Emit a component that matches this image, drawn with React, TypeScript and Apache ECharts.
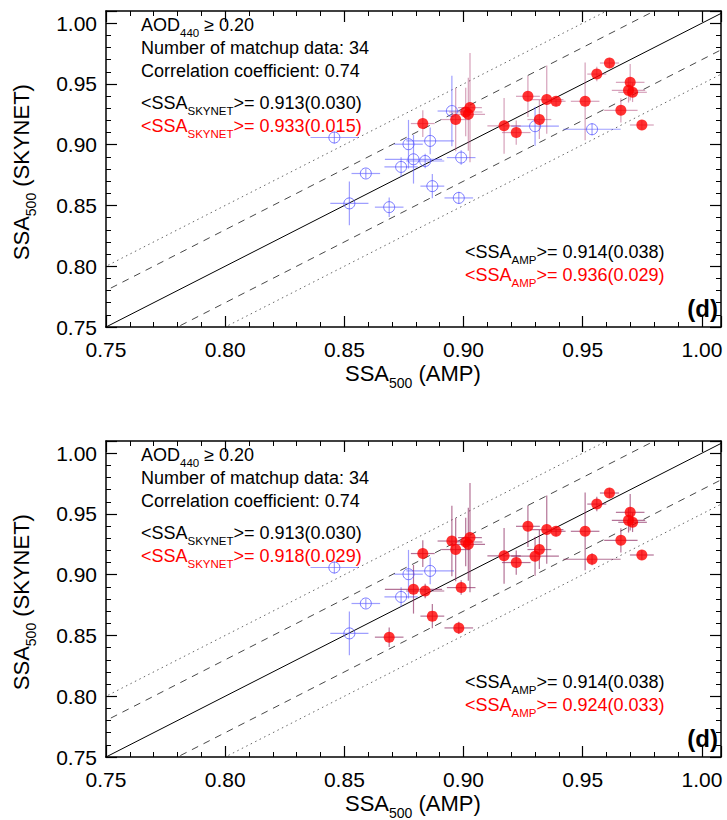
import React, { useEffect, useRef } from 'react';
import * as echarts from 'echarts';

// SSA500 from AMP (x) and SKYNET (y) for the 34 matchups
const ampSSA = [
  0.9612, 0.9559, 0.9699, 0.9692, 0.9709, 0.927, 0.9349, 0.9388, 0.951, 0.966,
  0.9027, 0.9009, 0.902, 0.8967, 0.9318, 0.8829, 0.917, 0.9748, 0.9221,
  0.8951, 0.93, 0.9539, 0.886, 0.8769, 0.879, 0.8839, 0.899, 0.8738, 0.859,
  0.8869, 0.898, 0.8521, 0.8688, 0.8458,
];
const skynetSSA = [
  0.9672, 0.9581, 0.9513, 0.9447, 0.9431, 0.9398, 0.9371, 0.9357, 0.9357, 0.9283,
  0.9305, 0.9269, 0.925, 0.9207, 0.9207, 0.9174, 0.9155, 0.9162, 0.91,
  0.9277, 0.9152, 0.9127, 0.9031, 0.9004, 0.888, 0.8866, 0.8894, 0.8817, 0.8763,
  0.8659, 0.8562, 0.8517, 0.8486, 0.9059,
];
const ampErr = [
  0.004, 0.004, 0.006, 0.007, 0.006, 0.005, 0.007, 0.004, 0.006, 0.007,
  0.005, 0.007, 0.007, 0.006, 0.005, 0.005, 0.007, 0.005, 0.006,
  0.006, 0.01, 0.012, 0.01, 0.006, 0.012, 0.008, 0.006, 0.007, 0.006,
  0.005, 0.006, 0.008, 0.006, 0.01,
];
const skynetErr = [
  0.004, 0.006, 0.015, 0.01, 0.008, 0.017, 0.028, 0.004, 0.032, 0.01,
  0.045, 0.02, 0.03, 0.026, 0.016, 0.011, 0.023, 0.004, 0.01,
  0.029, 0.016, 0.005, 0.011, 0.02, 0.02, 0.006, 0.006, 0.008, 0.004,
  0.01, 0.005, 0.018, 0.008, 0.005,
];
// red (selected) subsets for the upper and lower panel
const redUpper = [
  1, 1, 1, 1, 1, 1, 1, 1, 1, 1, 1, 1, 1, 1, 1, 1, 1, 1, 1,
  0, 0, 0, 0, 0, 0, 0, 0, 0, 0, 0, 0, 0, 0, 0,
];
const redLower = [
  1, 1, 1, 1, 1, 1, 1, 1, 1, 1, 1, 1, 1, 1, 1, 1, 1, 1, 1,
  1, 1, 1, 0, 0, 1, 1, 1, 0, 0, 1, 1, 0, 1, 0,
];
const redFlags = [redUpper, redLower];

const refOffsets = [0, 0.03, -0.03, 0.05, -0.05];
const axisMin = 0.75;
const xMax = 1.008;
const yMax = 1.01;
const tickStep = 0.05;

const aodText = ['0.20', '0.20'];
const countText = ['34', '34'];
const corrText = ['0.74', '0.74'];
const skyAllText = ['0.913(0.030)', '0.913(0.030)'];
const skyRedText = ['0.933(0.015)', '0.918(0.029)'];
const ampAllText = ['0.914(0.038)', '0.914(0.038)'];
const ampRedText = ['0.936(0.029)', '0.924(0.033)'];
const panelLabel = ['(d)', '(d)'];

const FONT = '"Liberation Sans", Arial, Helvetica, sans-serif';

export default function App() {
  const ref = useRef<HTMLDivElement>(null);
  useEffect(() => {
    if (!ref.current) return;
    const chart = echarts.init(ref.current, undefined, { renderer: 'svg' });

    const grids = [
      { left: 106, top: 11, width: 615, height: 316 },
      { left: 106, top: 441, width: 615, height: 316 },
    ];
    const offsetY = [0, 430];

    const fmt = (v: number) => v.toFixed(2);
    const xAxes: any[] = [];
    const yAxes: any[] = [];
    const common = (labels: boolean) => ({
      type: 'value',
      min: axisMin,
      interval: tickStep,
      splitLine: { show: false },
      axisLine: { show: true, onZero: false, lineStyle: { color: '#000', width: 1.5 } },
      axisTick: { show: true, inside: true, length: 11, lineStyle: { color: '#000', width: 1.2 } },
      minorTick: { show: true, splitNumber: 5, length: 5, lineStyle: { color: '#000', width: 1 } },
      axisLabel: {
        show: labels,
        showMaxLabel: false,
        formatter: fmt,
        fontSize: 21,
        lineHeight: 21,
        fontFamily: FONT,
        color: '#000',
      },
    });
    for (let p = 0; p < 2; p++) {
      const xb: any = { ...common(true), gridIndex: p, max: xMax, position: 'bottom' };
      xb.axisLabel = { ...xb.axisLabel, margin: 12 };
      const xt: any = { ...common(false), gridIndex: p, max: xMax, position: 'top' };
      const yl: any = { ...common(true), gridIndex: p, max: yMax, position: 'left' };
      yl.axisLabel = { ...yl.axisLabel, margin: 9 };
      const yr: any = { ...common(false), gridIndex: p, max: yMax, position: 'right' };
      xAxes.push(xb, xt);
      yAxes.push(yl, yr);
    }

    const series: any[] = [];
    const lineStyles = [
      { type: 'solid', color: '#000', width: 1 },
      { type: [7, 6], color: '#333', width: 0.9 },
      { type: [7, 6], color: '#333', width: 0.9 },
      { type: [1.5, 3.5], color: '#555', width: 0.9 },
      { type: [1.5, 3.5], color: '#555', width: 0.9 },
    ];
    const barColors = [
      { blue: 'rgba(95,95,255,0.6)', red: 'rgba(175,70,120,0.5)' },
      { blue: 'rgba(95,95,255,0.6)', red: 'rgba(140,40,95,0.65)' },
    ];

    for (let p = 0; p < 2; p++) {
      const xi = p * 2;
      const yi = p * 2;
      refOffsets.forEach((off, k) => {
        series.push({
          type: 'line',
          xAxisIndex: xi,
          yAxisIndex: yi,
          data: [
            [axisMin - 0.1, axisMin - 0.1 + off],
            [xMax + 0.1, xMax + 0.1 + off],
          ],
          showSymbol: false,
          silent: true,
          clip: true,
          lineStyle: lineStyles[k],
          z: 1,
        });
      });
      const flags = redFlags[p];
      const pts = (want: number) =>
        ampSSA
          .map((x, i) => [x, skynetSSA[i], ampErr[i], skynetErr[i], flags[i]])
          .filter((d) => d[4] === want);
      const bars = (want: number, color: string) => ({
        type: 'custom',
        xAxisIndex: xi,
        yAxisIndex: yi,
        clip: true,
        silent: true,
        z: 2,
        encode: { x: 0, y: 1 },
        data: pts(want),
        renderItem: (_params: any, api: any) => {
          const x = api.value(0);
          const y = api.value(1);
          const xe = api.value(2);
          const ye = api.value(3);
          const l = api.coord([x - xe, y]);
          const r = api.coord([x + xe, y]);
          const t = api.coord([x, y + ye]);
          const b = api.coord([x, y - ye]);
          return {
            type: 'group',
            children: [
              { type: 'line', shape: { x1: l[0], y1: l[1], x2: r[0], y2: r[1] }, style: { stroke: color, lineWidth: 1.2 } },
              { type: 'line', shape: { x1: t[0], y1: t[1], x2: b[0], y2: b[1] }, style: { stroke: color, lineWidth: 1.2 } },
            ],
          };
        },
      });
      series.push(bars(0, barColors[p].blue));
      series.push(bars(1, barColors[p].red));
      series.push({
        type: 'scatter',
        xAxisIndex: xi,
        yAxisIndex: yi,
        data: pts(0).map((d) => [d[0], d[1]]),
        symbol: 'circle',
        symbolSize: 11,
        silent: true,
        z: 3,
        itemStyle: { color: 'rgba(0,0,0,0)', borderColor: '#5a5aff', borderWidth: 1 },
      });
      series.push({
        type: 'scatter',
        xAxisIndex: xi,
        yAxisIndex: yi,
        data: pts(1).map((d) => [d[0], d[1]]),
        symbol: 'circle',
        symbolSize: 11,
        silent: true,
        z: 4,
        itemStyle: { color: '#ff0000' },
      });
    }

    // main text sits at the top of a taller line (set by an invisible spacer "z"),
    // the subscript at its bottom, so the subscript hangs below the baseline
    const rich = (color: string, size: number, sub: number, mainLh: number, lineLh: number) => ({
      m: { fontSize: size, lineHeight: mainLh, fontFamily: FONT, fill: color, verticalAlign: 'top' },
      s: { fontSize: sub, lineHeight: sub, fontFamily: FONT, fill: color, verticalAlign: 'bottom' },
      z: { fontSize: 1, lineHeight: lineLh, fill: 'rgba(0,0,0,0)' },
    });
    const txt = (x: number, y: number, text: string, color: string) => ({
      type: 'text',
      x,
      y,
      silent: true,
      z: 10,
      style: {
        text: text + '{z| }',
        fill: color,
        rich: rich(color, 18, 11.5, 19, 23),
        align: 'left',
        verticalAlign: 'top',
      },
    });

    const graphics: any[] = [];
    for (let p = 0; p < 2; p++) {
      const o = offsetY[p];
      graphics.push(txt(141, 15.5 + o, `{m|AOD}{s|440}{m| ≥ ${aodText[p]}}`, '#000'));
      graphics.push(txt(141, 39 + o, `{m|Number of matchup data: ${countText[p]}}`, '#000'));
      graphics.push(txt(141, 62 + o, `{m|Correlation coefficient: ${corrText[p]}}`, '#000'));
      graphics.push(txt(141, 94 + o, `{m|<SSA}{s|SKYNET}{m|>= ${skyAllText[p]}}`, '#000'));
      graphics.push(txt(141, 117 + o, `{m|<SSA}{s|SKYNET}{m|>= ${skyRedText[p]}}`, '#ff0000'));
      graphics.push(txt(465, 242.5 + o, `{m|<SSA}{s|AMP}{m|>= ${ampAllText[p]}}`, '#000'));
      graphics.push(txt(465, 265.5 + o, `{m|<SSA}{s|AMP}{m|>= ${ampRedText[p]}}`, '#ff0000'));
      graphics.push({
        type: 'text',
        x: 718,
        y: 308 + o,
        silent: true,
        z: 10,
        style: {
          text: panelLabel[p],
          fontSize: 24,
          fontWeight: 'bold',
          fontFamily: FONT,
          fill: '#000',
          align: 'right',
          verticalAlign: 'middle',
        },
      });
      graphics.push({
        type: 'text',
        x: 413,
        y: 362 + o,
        silent: true,
        style: {
          text: '{m|SSA}{s|500}{m| (AMP)}{z| }',
          rich: rich('#000', 22, 14, 22, 28),
          align: 'center',
          verticalAlign: 'top',
        },
      });
      graphics.push({
        type: 'text',
        x: 10,
        y: 172 + o,
        rotation: Math.PI / 2,
        silent: true,
        style: {
          text: '{m|SSA}{s|500}{m| (SKYNET)}{z| }',
          rich: rich('#000', 22, 14, 22, 28),
          align: 'center',
          verticalAlign: 'top',
        },
      });
    }

    chart.setOption({
      animation: false,
      backgroundColor: '#fff',
      grid: grids,
      xAxis: xAxes,
      yAxis: yAxes,
      series,
      graphic: graphics,
    });
    return () => chart.dispose();
  }, []);
  return (
    <div
      ref={ref}
      style={{ position: 'absolute', left: 0, top: 0, width: 727, height: 820 }}
    />
  );
}
